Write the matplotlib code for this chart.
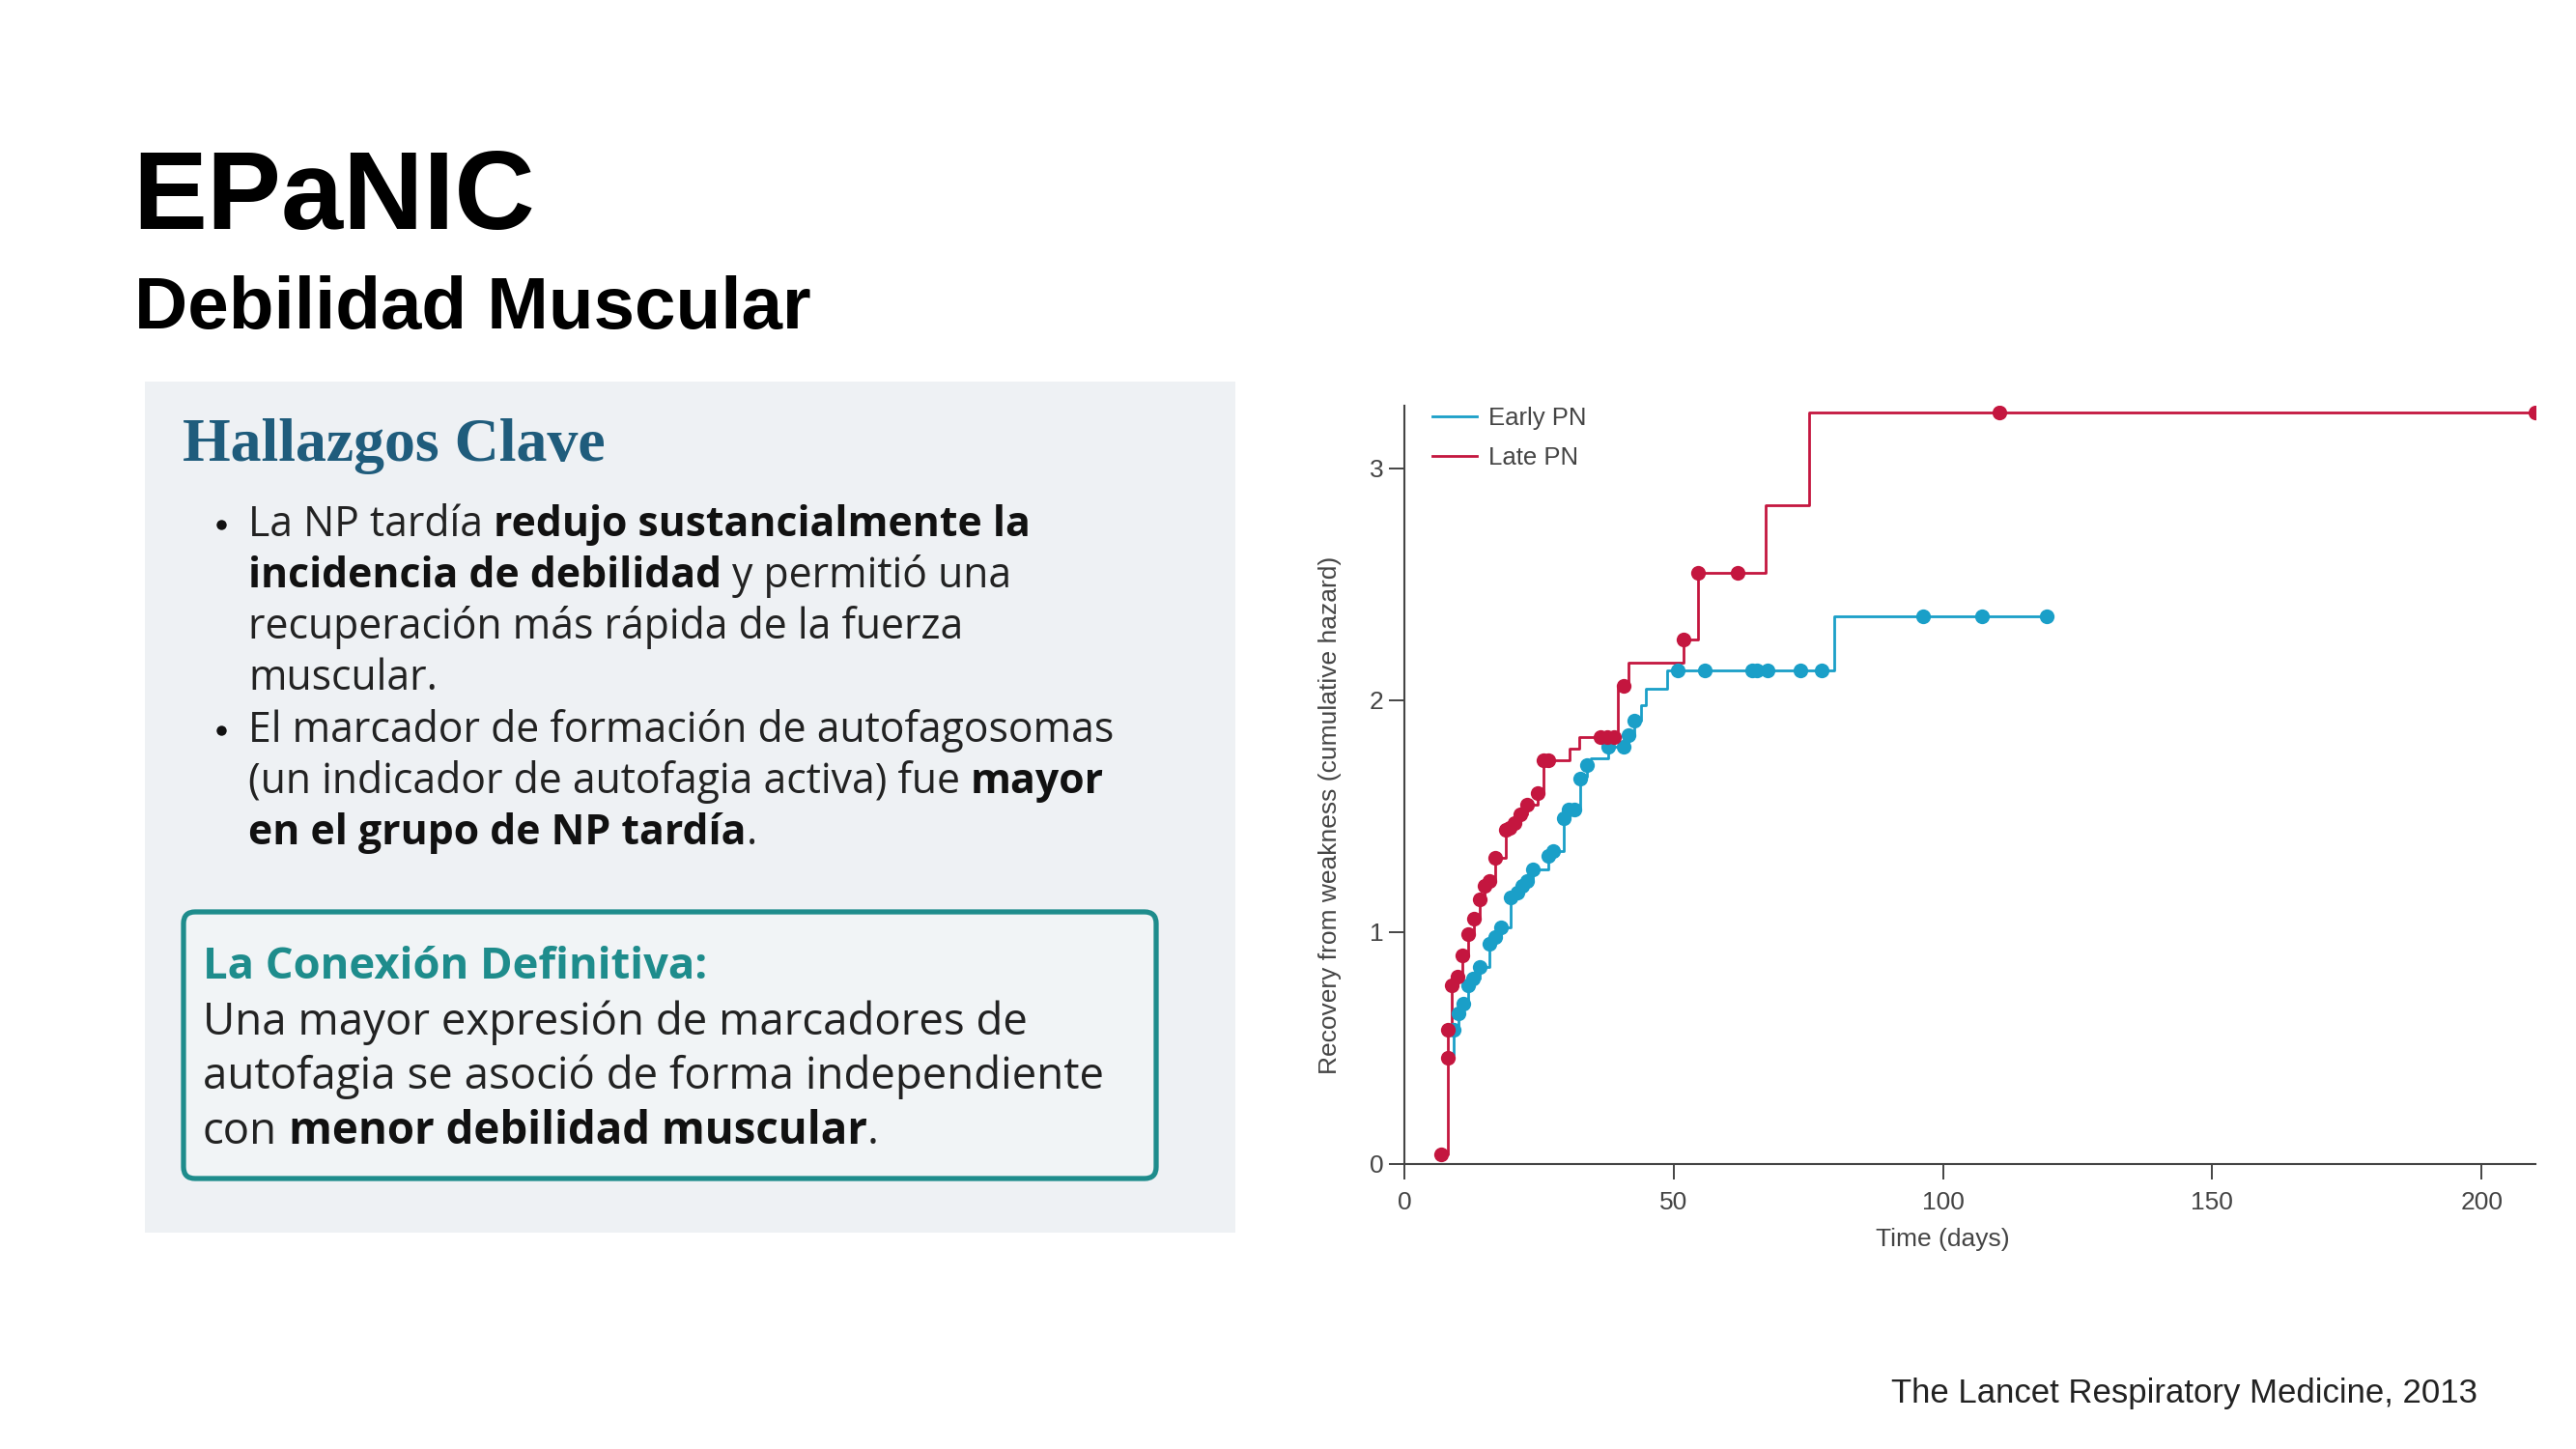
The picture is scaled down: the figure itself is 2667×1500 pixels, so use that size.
import matplotlib
matplotlib.use('Agg')
import matplotlib.pyplot as plt
from matplotlib.patches import Rectangle, FancyBboxPatch

W, H = 2667, 1500

# ---- data ----
late_t = [6.8, 8.0, 8.8, 9.8, 10.8, 11.8, 13.0, 13.9, 14.8, 15.7, 16.8, 18.9, 20.5,
          21.6, 22.7, 24.8, 25.9, 30.7, 32.5, 39.6, 41.6, 51.8, 54.6, 67.0, 75.2, 215.0]
late_h = [0.04, 0.58, 0.77, 0.81, 0.90, 0.99, 1.06, 1.14, 1.20, 1.22, 1.32, 1.44, 1.47,
          1.51, 1.55, 1.60, 1.74, 1.79, 1.84, 2.06, 2.16, 2.26, 2.55, 2.84, 3.24, 3.24]
late_mark_t = [6.8, 8.0, 8.1, 8.8, 9.8, 10.8, 11.8, 13.0, 13.9, 14.8, 15.7, 16.8, 18.9,
               19.6, 20.5, 21.6, 22.7, 24.8, 25.9, 26.8, 36.4, 37.6, 38.9, 40.7, 51.8,
               54.6, 61.8, 110.4, 210.0]
late_mark_h = [0.04, 0.46, 0.58, 0.77, 0.81, 0.90, 0.99, 1.06, 1.14, 1.20, 1.22, 1.32, 1.44,
               1.45, 1.47, 1.51, 1.55, 1.60, 1.74, 1.74, 1.84, 1.84, 1.84, 2.06, 2.26,
               2.55, 2.55, 3.24, 3.24]

early_t = [8.9, 9.1, 10.0, 10.9, 11.8, 12.7, 13.9, 15.7, 16.8, 18.0, 19.8, 20.9, 21.8,
           22.7, 23.9, 26.8, 27.7, 29.6, 30.5, 32.6, 33.9, 34.6, 37.8, 41.6, 42.7, 43.9,
           44.8, 48.8, 79.8, 119.3]
early_h = [0.47, 0.58, 0.65, 0.69, 0.77, 0.80, 0.85, 0.95, 0.98, 1.02, 1.15, 1.17, 1.20,
           1.22, 1.27, 1.33, 1.35, 1.49, 1.53, 1.67, 1.72, 1.75, 1.80, 1.85, 1.91, 1.98,
           2.05, 2.13, 2.36, 2.36]
early_mark_t = [9.1, 10.0, 10.9, 11.8, 12.7, 13.9, 15.7, 16.8, 18.0, 19.8, 20.9, 21.8, 22.7,
                23.9, 26.8, 27.7, 29.6, 30.5, 31.6, 32.7, 33.9, 37.8, 40.7, 41.6, 42.7,
                50.7, 55.8, 64.5, 65.5, 67.5, 73.6, 77.5, 96.3, 107.3, 119.3]
early_mark_h = [0.58, 0.65, 0.69, 0.77, 0.80, 0.85, 0.95, 0.98, 1.02, 1.15, 1.17, 1.20, 1.22,
                1.27, 1.33, 1.35, 1.49, 1.53, 1.53, 1.66, 1.72, 1.80, 1.80, 1.85, 1.91,
                2.13, 2.13, 2.13, 2.13, 2.13, 2.13, 2.13, 2.36, 2.36, 2.36]

x_ticks = [0, 50, 100, 150, 200]
y_ticks = [0, 1, 2, 3]

title = "EPaNIC"
subtitle = "Debilidad Muscular"
panel_title = "Hallazgos Clave"
bullet_lines = [
    [("La NP tardía ", False), ("redujo sustancialmente la", True)],
    [("incidencia de debilidad", True), (" y permitió una", False)],
    [("recuperación más rápida de la fuerza", False)],
    [("muscular.", False)],
    [("El marcador de formación de autofagosomas", False)],
    [("(un indicador de autofagia activa) fue ", False), ("mayor", True)],
    [("en el grupo de NP tardía", True), (".", False)],
]
bullet_starts = [0, 4]
box_title = "La Conexión Definitiva:"
box_lines = [
    [("Una mayor expresión de marcadores de", False)],
    [("autofagia se asoció de forma independiente", False)],
    [("con ", False), ("menor debilidad muscular", True), (".", False)],
]
source = "The Lancet Respiratory Medicine, 2013"

RED = '#C4163F'
BLUE = '#1A9FC8'
TEAL = '#1E8C8C'
BODY = ['Open Sans', 'DejaVu Sans']
CHART = ['Liberation Sans', 'DejaVu Sans']

fig = plt.figure(figsize=(W / 100, H / 100), dpi=100)
fig.patch.set_facecolor('white')

# pixel-coordinate layer for the slide
bg = fig.add_axes([0, 0, 1, 1])
bg.set_xlim(0, W)
bg.set_ylim(H, 0)
bg.axis('off')

bg.text(137, 237, title, fontsize=83, fontweight='bold', family='Liberation Sans',
        color='black', va='baseline')
bg.text(139, 340, subtitle, fontsize=55, fontweight='bold', family='Liberation Sans',
        color='black', va='baseline')

bg.add_patch(Rectangle((150, 395), 1279 - 150, 1276 - 395, facecolor='#EEF1F4',
                       edgecolor='none'))
bg.text(189, 477, panel_title, fontsize=46, fontweight='bold',
        family=['Liberation Serif', 'DejaVu Serif'], color='#1F5C7C', va='baseline')

renderer = fig.canvas.get_renderer()


def text_w(s, size, bold):
    t = bg.text(0, 0, s, fontsize=size, family=BODY,
                fontweight='bold' if bold else 'normal')
    w = t.get_window_extent(renderer).width
    t.remove()
    return w


def draw_runs(x, y, runs, size, color='#222222'):
    space = text_w('a a', size, False) - text_w('aa', size, False)
    for txt, bold in runs:
        lead = txt.startswith(' ')
        trail = txt.endswith(' ')
        core = txt.strip()
        if lead:
            x += space
        t = bg.text(x, y, core, fontsize=size, family=BODY, va='baseline',
                    fontweight='bold' if bold else 'normal',
                    color='#111111' if bold else color)
        x += t.get_window_extent(renderer).width
        if trail:
            x += space


bullet_y = [555, 608, 661, 714, 768, 821, 874]
for i, runs in enumerate(bullet_lines):
    if i in bullet_starts:
        bg.plot([229], [bullet_y[i] - 12], 'o', color='#111111', ms=7.5, mec='none')
    draw_runs(257, bullet_y[i], runs, 30.8)

bg.add_patch(FancyBboxPatch((190, 944), 1197 - 190, 1220 - 944,
                            boxstyle='round,pad=0,rounding_size=12',
                            facecolor='#F1F4F6', edgecolor=TEAL, linewidth=3.8))
bg.text(210, 1013, box_title, fontsize=32.7, fontweight='bold', family=BODY,
        color=TEAL, va='baseline')
for i, runs in enumerate(box_lines):
    draw_runs(210, 1071 + i * 56.5, runs, 32.9)

bg.text(2565, 1452, source, fontsize=25, family='Liberation Sans', color='#222222',
        ha='right', va='baseline')

# ---- chart ----
x0, x1 = 1454, 2625
y0, y1 = 1205, 420
xmax = 210
ax = fig.add_axes([x0 / W, 1 - y0 / H, (x1 - x0) / W, (y0 - y1) / H])
ax.set_facecolor('none')
ax.step(early_t, early_h, where='post', color=BLUE, lw=2.0, label='Early PN')
ax.step(late_t, late_h, where='post', color=RED, lw=2.0, label='Late PN')
ax.plot(early_mark_t, early_mark_h, 'o', color=BLUE, ms=11, mec='none')
ax.plot(late_mark_t, late_mark_h, 'o', color=RED, ms=11, mec='none')

ax.set_xlim(0, xmax)
ax.set_ylim(0, 3.27)
ax.set_xticks(x_ticks)
ax.set_yticks(y_ticks)
for s in ['top', 'right']:
    ax.spines[s].set_visible(False)
for s in ['left', 'bottom']:
    ax.spines[s].set_color('#444444')
    ax.spines[s].set_linewidth(1.5)
ax.tick_params(axis='both', direction='out', length=11.5, width=1.4, color='#444444',
               labelsize=19, labelcolor='#444444')
ax.tick_params(axis='y', pad=4)
ax.tick_params(axis='x', pad=9)
for lab in ax.get_xticklabels() + ax.get_yticklabels():
    lab.set_family(CHART)

ax.set_xlabel('Time (days)', fontsize=19, family=CHART, color='#444444')
ax.xaxis.set_label_coords(100 / xmax, -0.099)
ax.xaxis.label.set_va('center')
ax.set_ylabel('Recovery from weakness (cumulative hazard)', fontsize=19, family=CHART,
              color='#444444')
ax.yaxis.set_label_coords(-0.0658, 0.46)
ax.yaxis.label.set_va('center')

leg = ax.legend(loc='upper left', bbox_to_anchor=(0.0245, 0.9987), frameon=False,
                handlelength=1.8, handletextpad=0.45, labelspacing=0.65,
                borderpad=0, borderaxespad=0, prop={'family': CHART, 'size': 18.5})
for t in leg.get_texts():
    t.set_color('#444444')

fig.savefig('out.png', dpi=100, facecolor='white')
